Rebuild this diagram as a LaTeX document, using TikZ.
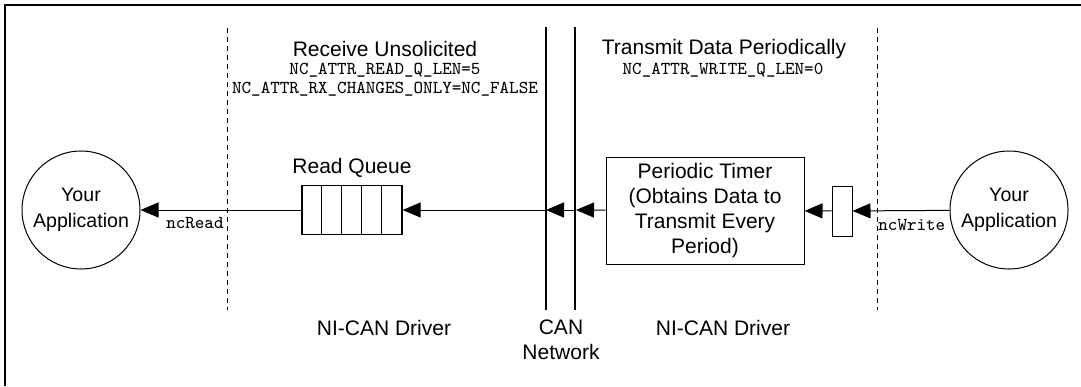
\documentclass[tikz,border=0pt]{standalone}
\usepackage{fontspec}
\setsansfont{Liberation Sans}
\usetikzlibrary{arrows.meta,positioning}
\tikzset{
  appcircle/.style={circle,draw,line width=0.5pt,minimum size=59pt,
                    inner sep=0pt,align=center,
                    font=\sffamily\fontsize{9.8}{13}\selectfont},
  qbox/.style={rectangle,draw,line width=0.6pt,minimum width=50pt,
               minimum height=24.5pt,inner sep=0pt},
  timerbox/.style={rectangle,draw,line width=0.5pt,minimum width=99pt,
                   minimum height=53.5pt,inner sep=0pt,align=center,
                   font=\sffamily\fontsize{10.5}{12.5}\selectfont},
  slotbox/.style={rectangle,draw,line width=0.5pt,minimum width=10pt,
                  minimum height=25pt,inner sep=0pt},
  flowarrow/.style={-{Triangle[length=9pt,width=7.5pt]},line width=0.5pt},
  laneline/.style={line width=0.5pt,dash pattern=on 2.5pt off 2pt},
  busline/.style={line width=1pt},
  sectitle/.style={inner sep=0pt,align=center,
                   font=\sffamily\fontsize{10.5}{12.5}\selectfont},
  attrtext/.style={inner sep=0pt,align=center,
                   font=\ttfamily\fontsize{9.1}{10}\selectfont},
  ifacelabel/.style={inner sep=0pt,font=\ttfamily\fontsize{9.1}{10}\selectfont}
}
\begin{document}
\begin{tikzpicture}[x=0.5pt,y=-0.5pt]
  \useasboundingbox (0,0) rectangle (1081,386);
  % frame, only its top and left edges show
  \draw[line width=1pt] (5,386) -- (5,5) -- (1081,5);

  % boundaries between application, driver and bus
  \draw[laneline] (227,28) -- (227,310);
  \draw[laneline] (877,28) -- (877,310);
  \draw[busline] (546,27) -- (546,310);
  \draw[busline] (575,27) -- (575,310);
  \coordinate (canA) at (546,210);
  \coordinate (canB) at (576,210);

  % section headings
  \node[sectitle] (rxtitle) at (385,49) {Receive Unsolicited};
  \node[attrtext] (rxattrA) at (385,70) {NC\_ATTR\_READ\_Q\_LEN=5};
  \node[attrtext] (rxattrB) at (385,89) {NC\_ATTR\_RX\_CHANGES\_ONLY=NC\_FALSE};
  \node[sectitle] (txtitle) at (724,49) {Transmit Data Periodically};
  \node[attrtext] (txattr) at (723,70) {NC\_ATTR\_WRITE\_Q\_LEN=0};

  % applications
  \node[appcircle] (appL) at (81,210) {Your\\Application};
  \node[appcircle] (appR) at (1009,210) {Your\\Application};

  % receive side
  \node[qbox] (rq) at (352,210) {};
  \foreach \i in {1,...,4}
    \draw[line width=0.7pt] ([xshift=10pt*\i]rq.north west)
      -- ([xshift=10pt*\i]rq.south west);
  \node[sectitle] (rqlabel) at (352,168) {Read Queue};

  % transmit side
  \node[timerbox] (timer) at (705,210.5)
    {Periodic Timer\\(Obtains Data to\\Transmit Every\\Period)};
  \node[slotbox] (slot) at (842,211) {};

  \draw[flowarrow] (appR) -- (slot);
  \draw[flowarrow] (slot) -- (timer);
  \draw[flowarrow] (timer) -- (canB);
  \draw[flowarrow] (canB) -- (canA);
  \draw[flowarrow] (canA) -- (rq);
  \draw[flowarrow] (rq) -- (appL);

  \node[ifacelabel,anchor=east] (rdlabel) at (224,223) {ncRead};
  \node[ifacelabel,anchor=west] (wrlabel) at (878,225) {ncWrite};

  % layer names
  \node[sectitle] (drvL) at (384,328) {NI-CAN Driver};
  \node[sectitle] (bus) at (561,340) {CAN\\Network};
  \node[sectitle] (drvR) at (723,328) {NI-CAN Driver};
\end{tikzpicture}
\end{document}
